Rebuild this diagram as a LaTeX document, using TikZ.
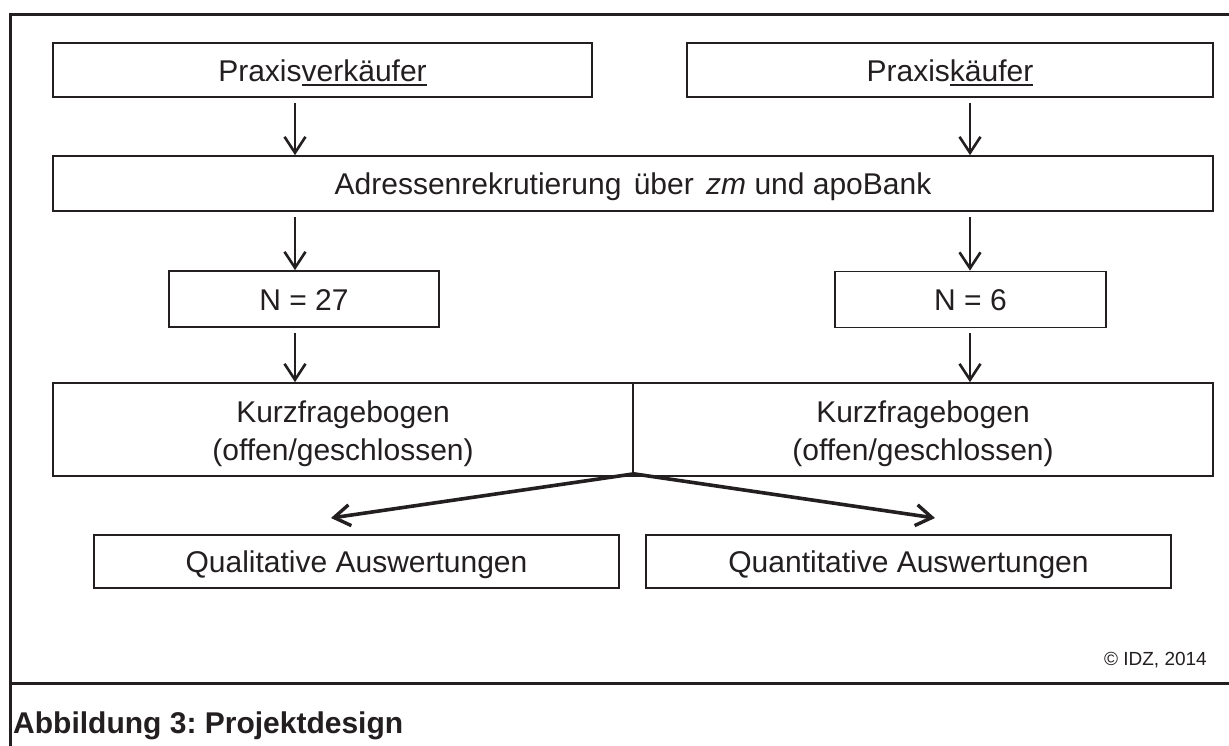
\documentclass[tikz,border=0pt]{standalone}
\usepackage{fontspec}
\setmainfont{Liberation Sans}
\usetikzlibrary{arrows.meta,calc}
\definecolor{ink}{HTML}{231F20}
\newcommand\myul[1]{\setbox0\hbox{#1}\rlap{\rule[-4.5pt]{\wd0}{2pt}}\box0}
\frenchspacing
\begin{document}
\begin{tikzpicture}[x=1pt,y=-1pt,
  box/.style={draw=ink,line width=1.7pt,rectangle,inner sep=0pt,
    text=ink,font=\fontsize{30}{39}\selectfont,text height=22pt,text depth=0pt},
  twobox/.style={draw=ink,line width=1.7pt,rectangle,inner sep=0pt,
    text=ink,font=\fontsize{30}{38.5}\selectfont,align=center},
  arr/.style={draw=ink,line width=2.6pt,-{Straight Barb[length=16pt,width=21pt,line width=2.6pt]}},
  darr/.style={draw=ink,line width=3.6pt,line cap=round,-{Straight Barb[length=16pt,width=21pt,line width=3.4pt]}},
  frame/.style={draw=ink,line width=3pt}]
\useasboundingbox (0,0) rectangle (1229,745);
\fill[white] (0,0) rectangle (1229,745);
% outer frame
\coordinate (fTL) at (10,14);
\coordinate (fTR) at (1231,14);
\coordinate (fBL) at (10,747);
\coordinate (sL) at (10,683);
\coordinate (sR) at (1231,683);
\draw[frame] (fTR) -- (fTL) -- (fBL);
\draw[frame] (sL) -- (sR);
% columns
\coordinate (colL) at (295,0);
\coordinate (colR) at (970,0);
% boxes
\node[box,minimum width=539pt,minimum height=54pt] (pv) at (322.5,70) {Praxis\myul{verkäufer}};
\node[box,minimum width=526pt,minimum height=54pt] (pk) at (950,70) {Praxis\myul{käufer}};
\node[box,minimum width=1160pt,minimum height=55pt] (adr) at (633,183.5) {Adressenrekrutierung\hspace{4pt} über\hspace{4pt} \textit{zm} und apoBank};
\node[box,minimum width=270pt,minimum height=56pt] (n27) at (304,299) {N = 27};
\node[box,minimum width=271pt,minimum height=56pt] (n6) at (970.5,299.5) {N = 6};
\node[twobox,minimum width=580pt,minimum height=93pt] (kl) at (343,429.5) {\rule{0pt}{30pt}Kurzfragebogen\\(offen/geschlossen)};
\node[twobox,minimum width=580pt,minimum height=93pt] (kr) at (923,429.5) {\rule{0pt}{30pt}Kurzfragebogen\\(offen/geschlossen)};
\node[box,minimum width=525pt,minimum height=53pt] (ql) at (356.5,561.5) {Qualitative Auswertungen};
\node[box,minimum width=525pt,minimum height=53pt] (qn) at (908.5,561.5) {Quantitative Auswertungen};
% vertical arrows
\draw[arr,shorten <=5pt] (pv.south -| colL) -- (adr.north -| colL);
\draw[arr,shorten <=5pt] (pk.south -| colR) -- (adr.north -| colR);
\draw[arr,shorten <=5pt] (adr.south -| colL) -- (n27.north -| colL);
\draw[arr,shorten <=5pt] (adr.south -| colR) -- (n6.north -| colR);
\draw[arr,shorten <=5pt] (n27.south -| colL) -- (kl.north -| colL);
\draw[arr,shorten <=5pt] (n6.south -| colR) -- (kr.north -| colR);
% diagonal arrows
\coordinate (junc) at ($(kl.south east)+(0,-3)$);
\coordinate (tq) at (331,518);
\coordinate (tn) at (935,518);
\draw[darr] (junc) -- (tq);
\draw[darr] (junc) -- (tn);
% texts
\node[anchor=base east,inner sep=0pt,text=ink,font=\fontsize{19}{22}\selectfont] (copy) at (1207,665) {© IDZ, 2014};
\node[anchor=base west,inner sep=0pt,text=ink,font=\fontsize{30}{36}\selectfont\bfseries] (cap) at (13,733) {Abbildung 3: Projektdesign};
\end{tikzpicture}
\end{document}
